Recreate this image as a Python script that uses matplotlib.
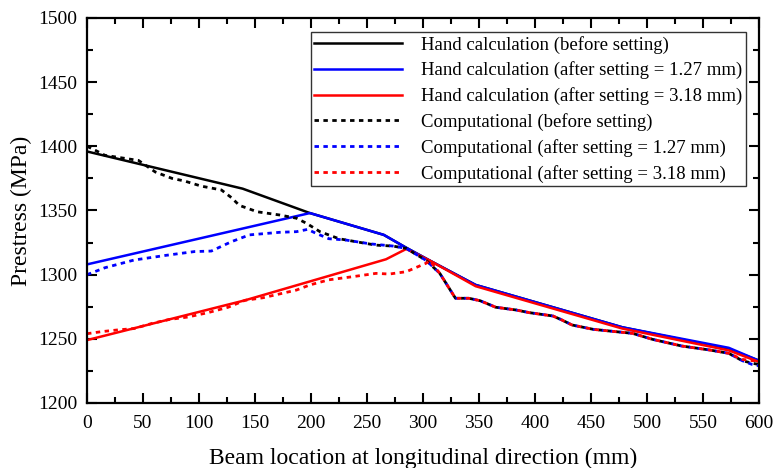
import matplotlib
matplotlib.use("Agg")
import matplotlib.pyplot as plt
from matplotlib.ticker import MultipleLocator

plt.rcParams['font.family'] = ['Liberation Serif', 'DejaVu Serif']

# Hand calculation series
hand_before_x = [0, 139, 199, 265, 285, 306, 347, 478, 573, 600]
hand_before_y = [1396, 1367, 1348, 1331, 1321, 1311, 1292, 1259, 1242, 1233]
hand_127_x = [0, 199, 265, 285, 306, 347, 478, 573, 600]
hand_127_y = [1308, 1348, 1331, 1321, 1311, 1292, 1259, 1243, 1233]
hand_318_x = [0, 141, 267, 285, 306, 347, 478, 573, 600]
hand_318_y = [1249, 1280, 1312, 1320, 1311, 1291, 1258, 1241, 1232]

# Computational series
comp_before_x = [0, 5, 16, 46, 61, 76, 87, 102, 120, 129, 136, 152, 172, 187, 196, 208, 225, 240, 258, 273, 285, 303,
                 315, 329, 341, 351, 365, 383, 395, 416, 424, 433, 452, 472, 487, 505, 531, 556, 573, 585, 594, 600]
comp_before_y = [1400, 1398, 1393, 1389, 1380, 1375, 1373, 1369, 1366, 1360, 1354, 1349, 1346.5, 1344, 1340, 1333.5, 1328, 1325.7, 1323, 1322.3, 1320.5, 1311,
                 1301, 1281.6, 1281.6, 1279.7, 1274.6, 1272.5, 1270.4, 1267.8, 1264.7, 1260.8, 1257.4, 1255.6, 1254.3, 1249.6, 1244.4, 1241.3, 1238.7, 1233, 1231, 1230]
comp_127_x = [0, 3, 16, 42, 70, 96, 111, 129, 145, 172, 187, 197, 205, 216, 231, 253, 273, 285, 303,
              315, 329, 341, 351, 365, 383, 395, 416, 424, 433, 452, 472, 487, 505, 531, 556, 573, 585, 594, 600]
comp_127_y = [1300, 1301, 1305.4, 1311.4, 1315, 1318, 1318.4, 1325.7, 1331, 1333, 1333.5, 1335.3, 1332, 1328, 1327, 1324, 1322.3, 1320.5, 1311,
              1301, 1281.6, 1281.6, 1279.7, 1274.6, 1272.5, 1270.4, 1267.8, 1264.7, 1260.8, 1257.4, 1255.6, 1254.3, 1249.6, 1244.4, 1241.3, 1238.7, 1233, 1230, 1229]
comp_318_x = [0, 13, 28, 42, 58, 73, 90, 108, 126, 141, 157, 187, 199, 216, 237, 258, 270, 285, 303, 306,
              315, 329, 341, 351, 365, 383, 395, 416, 424, 433, 452, 472, 487, 505, 531, 556, 573, 585, 594, 600]
comp_318_y = [1254, 1255.6, 1257, 1258, 1262, 1265, 1267, 1270.4, 1274.6, 1280, 1282, 1288, 1292, 1296, 1298.4, 1301, 1300.5, 1302.3, 1309, 1311,
              1301, 1281.6, 1281.6, 1279.7, 1274.6, 1272.5, 1270.4, 1267.8, 1264.7, 1260.8, 1257.4, 1255.6, 1254.3, 1249.6, 1244.4, 1241.3, 1238.7, 1234, 1233, 1233]

labels = ["Hand calculation (before setting)",
          "Hand calculation (after setting = 1.27 mm)",
          "Hand calculation (after setting = 3.18 mm)",
          "Computational (before setting)",
          "Computational (after setting = 1.27 mm)",
          "Computational (after setting = 3.18 mm)"]

fig = plt.figure(figsize=(7.75, 4.68), dpi=100)
ax = fig.add_axes([87 / 775, 1 - 403 / 468, 672 / 775, 385 / 468])

lw = 1.8
dot = (0, (1.6, 1.6))
ax.plot(hand_before_x, hand_before_y, color='black', lw=lw, label=labels[0])
ax.plot(hand_127_x, hand_127_y, color='#0000ff', lw=lw, label=labels[1])
ax.plot(hand_318_x, hand_318_y, color='#ff0000', lw=lw, label=labels[2])
ax.plot(comp_before_x, comp_before_y, color='black', lw=2.0, ls=dot, label=labels[3])
ax.plot(comp_127_x, comp_127_y, color='#0000ff', lw=2.0, ls=dot, label=labels[4])
ax.plot(comp_318_x, comp_318_y, color='#ff0000', lw=2.0, ls=dot, label=labels[5])

ax.set_xlim(0, 600)
ax.set_ylim(1200, 1500)
ax.xaxis.set_major_locator(MultipleLocator(50))
ax.xaxis.set_minor_locator(MultipleLocator(25))
ax.yaxis.set_major_locator(MultipleLocator(50))
ax.yaxis.set_minor_locator(MultipleLocator(25))
ax.tick_params(which='both', direction='in', top=True, right=True, labelsize=14, width=1.5)
ax.tick_params(which='major', length=7)
ax.tick_params(axis='x', which='major', pad=9)
ax.tick_params(axis='y', which='major', pad=7)
ax.tick_params(which='minor', length=4)
for s in ax.spines.values():
    s.set_linewidth(1.6)

ax.set_xlabel("Beam location at longitudinal direction (mm)", fontsize=17, labelpad=11)
ax.set_ylabel("Prestress (MPa)", fontsize=17, labelpad=4)

leg = ax.legend(loc='upper right', bbox_to_anchor=(0.981, 0.964), fontsize=13.5,
                handlelength=4.7, handletextpad=1.0, labelspacing=0.42,
                frameon=True, fancybox=False, edgecolor='black', borderpad=0.2,
                borderaxespad=0, handleheight=0.7)
leg.get_frame().set_linewidth(1.0)

fig.savefig("out.png", dpi=100)
